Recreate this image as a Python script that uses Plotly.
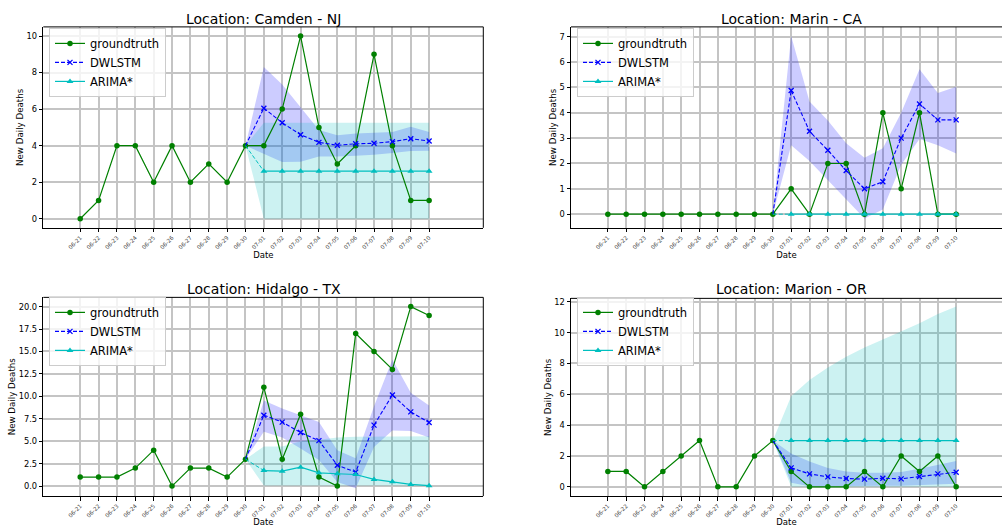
import plotly.graph_objects as go

# ---------------- data ----------------
dates = ["06-21", "06-22", "06-23", "06-24", "06-25", "06-26", "06-27", "06-28", "06-29", "06-30",
         "07-01", "07-02", "07-03", "07-04", "07-05", "07-06", "07-07", "07-08", "07-09", "07-10"]
fc_dates = dates[9:]  # 06-30 (anchor) .. 07-10

titles = ["Location: Camden - NJ", "Location: Marin - CA",
          "Location: Hidalgo - TX", "Location: Marion - OR"]

# Camden - NJ
camden_gt = [0, 1, 4, 4, 2, 4, 2, 3, 2, 4, 4, 6, 10, 5, 3, 4, 9, 4, 1, 1]
camden_dw = [4, 6.05, 5.25, 4.6, 4.18, 4.02, 4.1, 4.13, 4.22, 4.38, 4.25]
camden_dw_lo = [4, 3.55, 3.1, 3.12, 3.4, 3.4, 3.45, 3.5, 3.6, 3.7, 3.72]
camden_dw_hi = [4, 8.3, 7.35, 6.1, 4.85, 4.57, 4.66, 4.7, 4.75, 5.03, 4.75]
camden_ar = [4, 2.6, 2.6, 2.6, 2.6, 2.6, 2.6, 2.6, 2.6, 2.6, 2.6]
camden_ar_lo = [4, 0, 0, 0, 0, 0, 0, 0, 0, 0, 0]
camden_ar_hi = [4, 5.25, 5.25, 5.25, 5.25, 5.25, 5.25, 5.25, 5.25, 5.25, 5.25]

# Marin - CA
marin_gt = [0, 0, 0, 0, 0, 0, 0, 0, 0, 0, 1, 0, 2, 2, 0, 4, 1, 4, 0, 0]
marin_dw = [0, 4.88, 3.27, 2.52, 1.72, 1.0, 1.28, 3.0, 4.35, 3.72, 3.72]
marin_dw_lo = [0, 2.72, 2.1, 1.35, 0.6, -0.17, 0.18, 1.95, 2.97, 2.72, 2.39]
marin_dw_hi = [0, 7.03, 4.45, 3.7, 2.8, 2.23, 2.6, 4.0, 5.72, 4.78, 5.03]
marin_ar = [0, 0, 0, 0, 0, 0, 0, 0, 0, 0, 0]
marin_ar_lo = [0, 0, 0, 0, 0, 0, 0, 0, 0, 0, 0]
marin_ar_hi = [0, 0, 0, 0, 0, 0, 0, 0, 0, 0, 0]

# Hidalgo - TX
hidalgo_gt = [1, 1, 1, 2, 4, 0, 2, 2, 1, 3, 11, 3, 8, 1, 0, 17, 15, 13, 20, 19]
hidalgo_dw = [3, 7.9, 7.13, 5.97, 5.06, 2.32, 1.55, 6.79, 10.15, 8.27, 7.08]
hidalgo_dw_lo = [3, 6.05, 5.4, 4.2, 2.9, 0.45, -0.25, 4.35, 6.2, 6.15, 5.4]
hidalgo_dw_hi = [3, 9.55, 8.65, 7.9, 7.15, 4.0, 3.1, 8.9, 14.1, 10.4, 8.97]
hidalgo_ar = [3, 1.73, 1.66, 2.1, 1.48, 1.37, 1.29, 0.74, 0.48, 0.18, 0.04]
hidalgo_ar_lo = [3, 0.05, 0.05, 0.05, 0.05, 0.05, 0.05, 0.05, 0.05, 0.05, 0.05]
hidalgo_ar_hi = [3, 4.4, 4.4, 5.0, 5.15, 5.4, 5.5, 5.5, 5.55, 5.55, 5.55]

# Marion - OR
marion_gt = [1, 1, 0, 1, 2, 3, 0, 0, 2, 3, 1, 0, 0, 0, 1, 0, 2, 1, 2, 0]
marion_dw = [3, 1.23, 0.84, 0.65, 0.54, 0.5, 0.56, 0.52, 0.67, 0.84, 0.95]
marion_dw_lo = [3, 0.26, 0.04, 0.05, 0.05, 0.06, 0.07, 0.08, 0.1, 0.15, 0.2]
marion_dw_hi = [3, 2.16, 1.65, 1.22, 1.0, 0.92, 0.92, 0.97, 1.17, 1.4, 1.67]
marion_ar = [3, 3, 3, 3, 3, 3, 3, 3, 3, 3, 3]
marion_ar_lo = [3, 0, 0, 0, 0, 0, 0, 0, 0, 0, 0]
marion_ar_hi = [3, 5.88, 6.92, 7.74, 8.43, 9.04, 9.56, 10.1, 10.6, 11.2, 11.7]

panels = [
    (camden_gt, camden_dw, camden_dw_lo, camden_dw_hi, camden_ar, camden_ar_lo, camden_ar_hi),
    (marin_gt, marin_dw, marin_dw_lo, marin_dw_hi, marin_ar, marin_ar_lo, marin_ar_hi),
    (hidalgo_gt, hidalgo_dw, hidalgo_dw_lo, hidalgo_dw_hi, hidalgo_ar, hidalgo_ar_lo, hidalgo_ar_hi),
    (marion_gt, marion_dw, marion_dw_lo, marion_dw_hi, marion_ar, marion_ar_lo, marion_ar_hi),
]

# ---------------- layout geometry (pixels) ----------------
W, H = 1002, 527
FONT = "DejaVu Sans"
# (left, right, top, bottom) in pixels
boxes = [(43.3, 483.3, 25, 226.7), (571, 1002, 25, 226.7),
         (43.3, 483.3, 296.5, 496), (571, 1002, 297.5, 496)]
title_pos = [(263.5, 17.5), (791, 17.5), (263.8, 288), (791.5, 288)]
legend_pos = [(49, 26), (577, 26), (49, 296), (577, 296)]
yranges = [[-0.5, 10.5], [-0.54, 7.39], [-1.12, 21.03], [-0.6, 12.22]]
xranges = [[-2.01, 21.95], [-2.01, 21.5], [-2.01, 21.95], [-2.01, 21.5]]
ydticks = [2, 1, 2.5, 2]
yfmt = ["d", "d", ".1f", "d"]

GREEN, BLUE, CYAN = "#008000", "#0000ff", "#00bfbf"

fig = go.Figure()
layout = dict(width=W, height=H, autosize=False,
              margin=dict(l=0, r=0, t=0, b=0, pad=0),
              paper_bgcolor="white", plot_bgcolor="white",
              font=dict(family=FONT, color="black"),
              showlegend=True, annotations=[], shapes=[])

for i, (gt, dw, dw_lo, dw_hi, ar, ar_lo, ar_hi) in enumerate(panels):
    sfx = "" if i == 0 else str(i + 1)
    xa, ya = "x" + sfx, "y" + sfx
    leg = "legend" + sfx
    common = dict(xaxis=xa, yaxis=ya, hoverinfo="skip")

    # bands
    fig.add_trace(go.Scatter(x=fc_dates + fc_dates[::-1], y=dw_hi + dw_lo[::-1],
                             fill="toself", fillcolor="rgba(0,0,255,0.2)",
                             line=dict(width=0), mode="lines", showlegend=False, **common))
    fig.add_trace(go.Scatter(x=fc_dates + fc_dates[::-1], y=ar_hi + ar_lo[::-1],
                             fill="toself", fillcolor="rgba(0,191,191,0.2)",
                             line=dict(width=0), mode="lines", showlegend=False, **common))
    # groundtruth
    fig.add_trace(go.Scatter(x=dates, y=gt, mode="lines+markers", name="groundtruth",
                             line=dict(color=GREEN, width=1.2),
                             marker=dict(symbol="circle", size=5.5, color=GREEN),
                             legend=leg, **common))
    # DWLSTM connector + forecast
    fig.add_trace(go.Scatter(x=fc_dates[:2], y=dw[:2], mode="lines", showlegend=False,
                             line=dict(color=BLUE, width=1.1, dash="4px,2px"), **common))
    fig.add_trace(go.Scatter(x=fc_dates[1:], y=dw[1:], mode="lines+markers", name="DWLSTM",
                             line=dict(color=BLUE, width=1.1, dash="4px,2px"),
                             marker=dict(symbol="x-thin", size=5, color=BLUE,
                                         line=dict(color=BLUE, width=1.3)),
                             legend=leg, **common))
    # ARIMA connector + forecast
    fig.add_trace(go.Scatter(x=fc_dates[:2], y=ar[:2], mode="lines", showlegend=False,
                             line=dict(color=CYAN, width=1.0, dash="4px,2px"), **common))
    fig.add_trace(go.Scatter(x=fc_dates[1:], y=ar[1:], mode="lines+markers", name="ARIMA*",
                             line=dict(color=CYAN, width=1.2),
                             marker=dict(symbol="triangle-up", size=6, color=CYAN),
                             legend=leg, **common))

    l, r, t, b = boxes[i]
    layout["xaxis" + sfx] = dict(
        domain=[l / W, r / W], anchor=ya, type="category",
        categoryorder="array", categoryarray=dates, range=xranges[i],
        tickangle=-45, tickfont=dict(size=5.6, color="#444"),
        ticks="outside", ticklen=3.5, tickwidth=0.8, tickcolor="black",
        showgrid=True, gridcolor="#c4c4c4", gridwidth=1.6,
        showline=True, linecolor="black", linewidth=1, zeroline=False,
        title=dict(text="Date", font=dict(size=8.5, family=FONT), standoff=0),
        fixedrange=True)
    layout["yaxis" + sfx] = dict(
        domain=[1 - b / H, 1 - t / H], anchor=xa, range=yranges[i],
        tick0=0, dtick=ydticks[i], tickformat=yfmt[i],
        tickfont=dict(size=8.3, color="black"),
        ticks="outside", ticklen=3.5, tickwidth=0.8, tickcolor="black",
        showgrid=True, gridcolor="#c4c4c4", gridwidth=1.6,
        showline=True, linecolor="black", linewidth=1, zeroline=False,
        title=dict(text="New Daily Deaths", font=dict(size=8.7, family=FONT), standoff=1),
        fixedrange=True)

    # top spine (and right spine for left column)
    layout["shapes"].append(dict(type="line", xref=xa + " domain", yref=ya + " domain",
                                 x0=0, x1=1, y0=1, y1=1, line=dict(color="black", width=1)))
    if i % 2 == 0:
        layout["shapes"].append(dict(type="line", xref=xa + " domain", yref=ya + " domain",
                                     x0=1, x1=1, y0=0, y1=1, line=dict(color="black", width=1)))

    tx, ty = title_pos[i]
    layout["annotations"].append(dict(text=titles[i], xref="paper", yref="paper",
                                      x=tx / W, y=1 - ty / H, xanchor="center", yanchor="middle",
                                      showarrow=False, font=dict(size=14, family=FONT, color="black")))
    lx, ly = legend_pos[i]
    layout["legend" + sfx] = dict(x=lx / W, y=1 - ly / H, xanchor="left", yanchor="top",
                                  xref="paper", yref="paper",
                                  bgcolor="rgba(255,255,255,0.8)", bordercolor="#cccccc",
                                  borderwidth=1, font=dict(size=11.5, family=FONT, color="black"),
                                  itemwidth=30, tracegroupgap=0)

fig.update_layout(**layout)
fig.write_html("out.html")
